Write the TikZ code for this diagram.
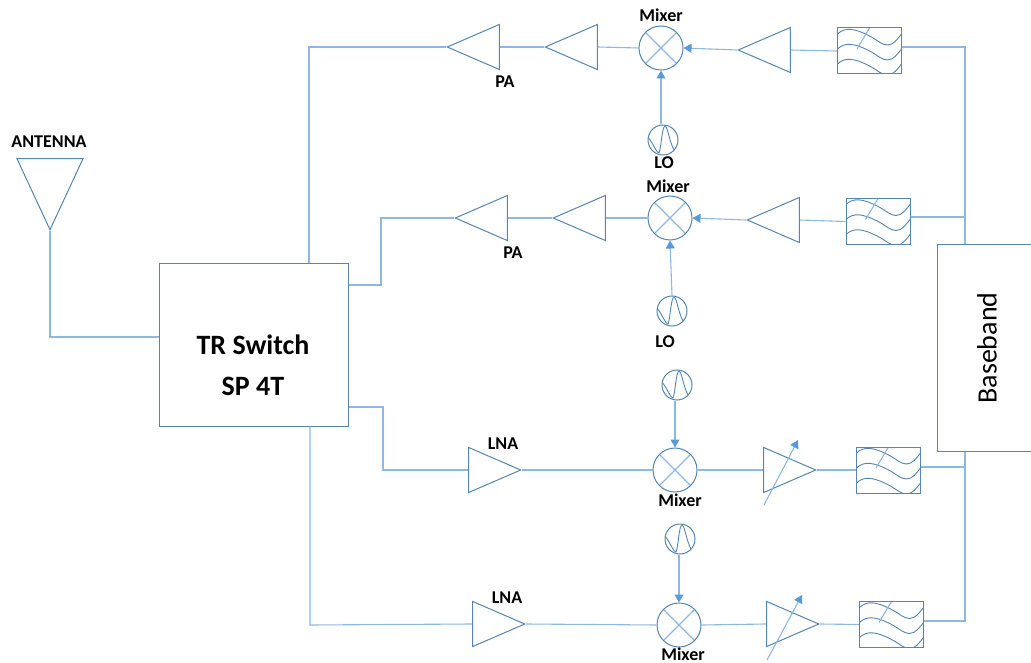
\documentclass[tikz,border=0pt]{standalone}
\usepackage{fontspec}
\setmainfont{Carlito}
\usetikzlibrary{arrows.meta,positioning,shapes.geometric}
\definecolor{wirecol}{HTML}{8DB8E2}
\definecolor{edgecol}{HTML}{5585B0}
\definecolor{tipcol}{HTML}{5B9BD5}
\tikzset{
  wire/.style = {draw=wirecol, line width=1.1pt},
  feed/.style = {wire, -{Triangle[length=8pt,width=9pt,color=tipcol]}},
  amp/.style = {draw=edgecol, line width=1pt, isosceles triangle, isosceles triangle apex angle=46,
    isosceles triangle stretches, inner sep=0pt, minimum width=45pt, minimum height=52pt},
  ampl/.style = {amp, shape border rotate=180, anchor=apex},
  ampr/.style = {amp, anchor=apex},
  mixer/.style = {draw=edgecol, line width=1pt, circle, inner sep=0pt, minimum size=44pt,
    path picture = {
      \draw[wire] (path picture bounding box.north west) -- (path picture bounding box.south east);
      \draw[wire] (path picture bounding box.north east) -- (path picture bounding box.south west);
    }},
  osc/.style = {draw=edgecol, line width=1pt, circle, inner sep=0pt, minimum size=30pt,
    path picture = {
      \begin{scope}[shift={(path picture bounding box.center)}]
        \draw[edgecol, line width=.9pt] (-15,-3) .. controls (-10,3) and (-6,14) .. (-4,13)
          .. controls (-2,10) and (-1,-14) .. (2,-14) .. controls (5,-14) and (7,8) .. (14,14);
      \end{scope}
    }},
  filt/.style = {draw=edgecol, line width=1pt, rectangle, inner sep=0pt, minimum width=64pt, minimum height=46pt,
    path picture = {
      \begin{scope}[shift={(path picture bounding box.center)}]
        \foreach \dy in {0,15,30} {
          \draw[edgecol, line width=.9pt] (-32,-17+\dy) .. controls (-25,-24+\dy) and (-15,-23+\dy) .. (0,-15+\dy)
            .. controls (8,-11+\dy) and (12,-6+\dy) .. (18,-6+\dy) .. controls (24,-6+\dy) and (28,-12+\dy) .. (32,-17+\dy);
        }
        \draw[wire] (-12.5,-2) -- (0,-23);
      \end{scope}
    }},
  tag/.style = {font=\fontsize{18}{18}\selectfont\bfseries, inner sep=0pt},
}
\begin{document}
\begin{tikzpicture}[x=1pt,y=-1pt]
  \useasboundingbox (0,0) rectangle (1031,663);
  % blocks
  \node[draw=edgecol, line width=1pt, minimum width=189pt, minimum height=162pt, inner sep=0pt] (sw) at (253.5,345) {};
  \node[align=center, font=\fontsize{28}{41}\selectfont\bfseries, inner sep=0pt] (swtxt) at (253,365) {TR Switch\\SP 4T};
  \node[draw=edgecol, line width=1pt, minimum width=100pt, minimum height=206pt, inner sep=0pt] (bb) at (987,348)
    {\rotatebox{90}{\fontsize{28}{28}\selectfont Baseband}};
  \node[amp, shape border rotate=270, anchor=apex, minimum width=66pt, minimum height=71pt] (ant) at (50,231) {};
  \node[tag] (anttxt) at (49,142) {ANTENNA};
  % first transmit row
  \node[mixer] (mix1) at (661,48) {};
  \node[ampl] (pa1) at (446,47) {};
  \node[ampl] (drv1) at (544,47) {};
  \node[ampl] (drvb1) at (737,50) {};
  \node[filt] (fil1) at (869.5,51) {};
  \node[osc] (lo1) at (663,140) {};
  \node[tag, above=4pt of mix1] (mixtxt1) {Mixer};
  \node[tag] (patxt1) at (505,82) {PA};
  \node[tag] (lotxt1) at (664,163) {LO};
  % second transmit row
  \node[mixer] (mix2) at (670,218) {};
  \node[ampl] (pa2) at (454,218) {};
  \node[ampl] (drv2) at (552,218) {};
  \node[ampl] (drvb2) at (746,220) {};
  \node[filt] (fil2) at (878,221.5) {};
  \node[osc] (lo2) at (672,311) {};
  \node[tag] (mixtxt2) at (668,186) {Mixer};
  \node[tag] (patxt2) at (513,253) {PA};
  \node[tag] (lotxt2) at (665,342) {LO};
  % receive rows
  \node[ampr] (lna1) at (522,470) {};
  \node[mixer] (mix3) at (675,470) {};
  \node[ampr] (vga1) at (817,470) {};
  \node[filt] (fil3) at (888.5,470) {};
  \node[osc] (lo3) at (677,385) {};
  \node[tag] (lnatxt1) at (503,444) {LNA};
  \node[tag] (mixtxt3) at (680,500) {Mixer};
  \node[ampr] (lna2) at (526,624) {};
  \node[mixer] (mix4) at (679,625) {};
  \node[ampr] (vga2) at (820,624) {};
  \node[filt] (fil4) at (891.5,624.5) {};
  \node[osc] (lo4) at (680,539) {};
  \node[tag] (lnatxt2) at (507,598) {LNA};
  \node[tag] (mixtxt4) at (683,654) {Mixer};
  % junctions
  \coordinate (ja) at (159,337);
  \coordinate (j1) at (309,47);
  \coordinate (j2) at (381,285);
  \coordinate (j3) at (383,407);
  \coordinate (j4) at (310,625);
  \coordinate (bt) at (965,47);
  \coordinate (bu) at (965,217);
  \coordinate (br) at (965,467);
  \coordinate (bs) at (965,621);
  \coordinate (va1) at (764,505);
  \coordinate (vb1) at (798,440);
  \coordinate (va2) at (767,660);
  \coordinate (vb2) at (802,595);
  % connectors
  \draw[wire] (ant.apex) |- (ja);
  \draw[wire] (j1 |- sw.north) -- (j1) -- (pa1.apex);
  \draw[wire] (pa1.lower side) -- (drv1.apex);
  \draw[wire] (drv1.lower side) -- (mix1.west);
  \draw[feed] (drvb1.apex) -- (mix1.east);
  \draw[wire] (fil1.west) -- (drvb1.lower side);
  \draw[feed] (lo1.north -| mix1) -- (mix1.south);
  \draw[wire] (fil1.east |- bt) -- (bt) -- (bt |- bb.north);
  \draw[wire] (sw.east |- j2) -- (j2) |- (pa2.apex);
  \draw[wire] (pa2.lower side) -- (drv2.apex);
  \draw[wire] (drv2.lower side) -- (mix2.west);
  \draw[feed] (drvb2.apex) -- (mix2.east);
  \draw[wire] (fil2.west) -- (drvb2.lower side);
  \draw[feed] (lo2.north) -- (mix2.south);
  \draw[wire] (fil2.east |- bu) -- (bu);
  \draw[wire] (sw.east |- j3) -- (j3) |- (lna1.lower side);
  \draw[wire] (lna1.apex) -- (mix3.west);
  \draw[wire] (mix3.east) -- (vga1.lower side);
  \draw[wire] (vga1.apex) -- (fil3.west);
  \draw[feed] (lo3.south -| mix3) -- (mix3.north);
  \draw[wire] (fil3.east |- br) -- (br);
  \draw[feed] (va1) -- (vb1);
  \draw[wire] (j4 |- sw.south) -- (j4) -- (lna2.lower side);
  \draw[wire] (lna2.apex) -- (mix4.west);
  \draw[wire] (mix4.east) -- (vga2.lower side);
  \draw[wire] (vga2.apex) -- (fil4.west);
  \draw[feed] (lo4.south -| mix4) -- (mix4.north);
  \draw[wire] (fil4.east |- bs) -- (bs) -- (bs |- bb.south);
  \draw[feed] (va2) -- (vb2);
\end{tikzpicture}
\end{document}
